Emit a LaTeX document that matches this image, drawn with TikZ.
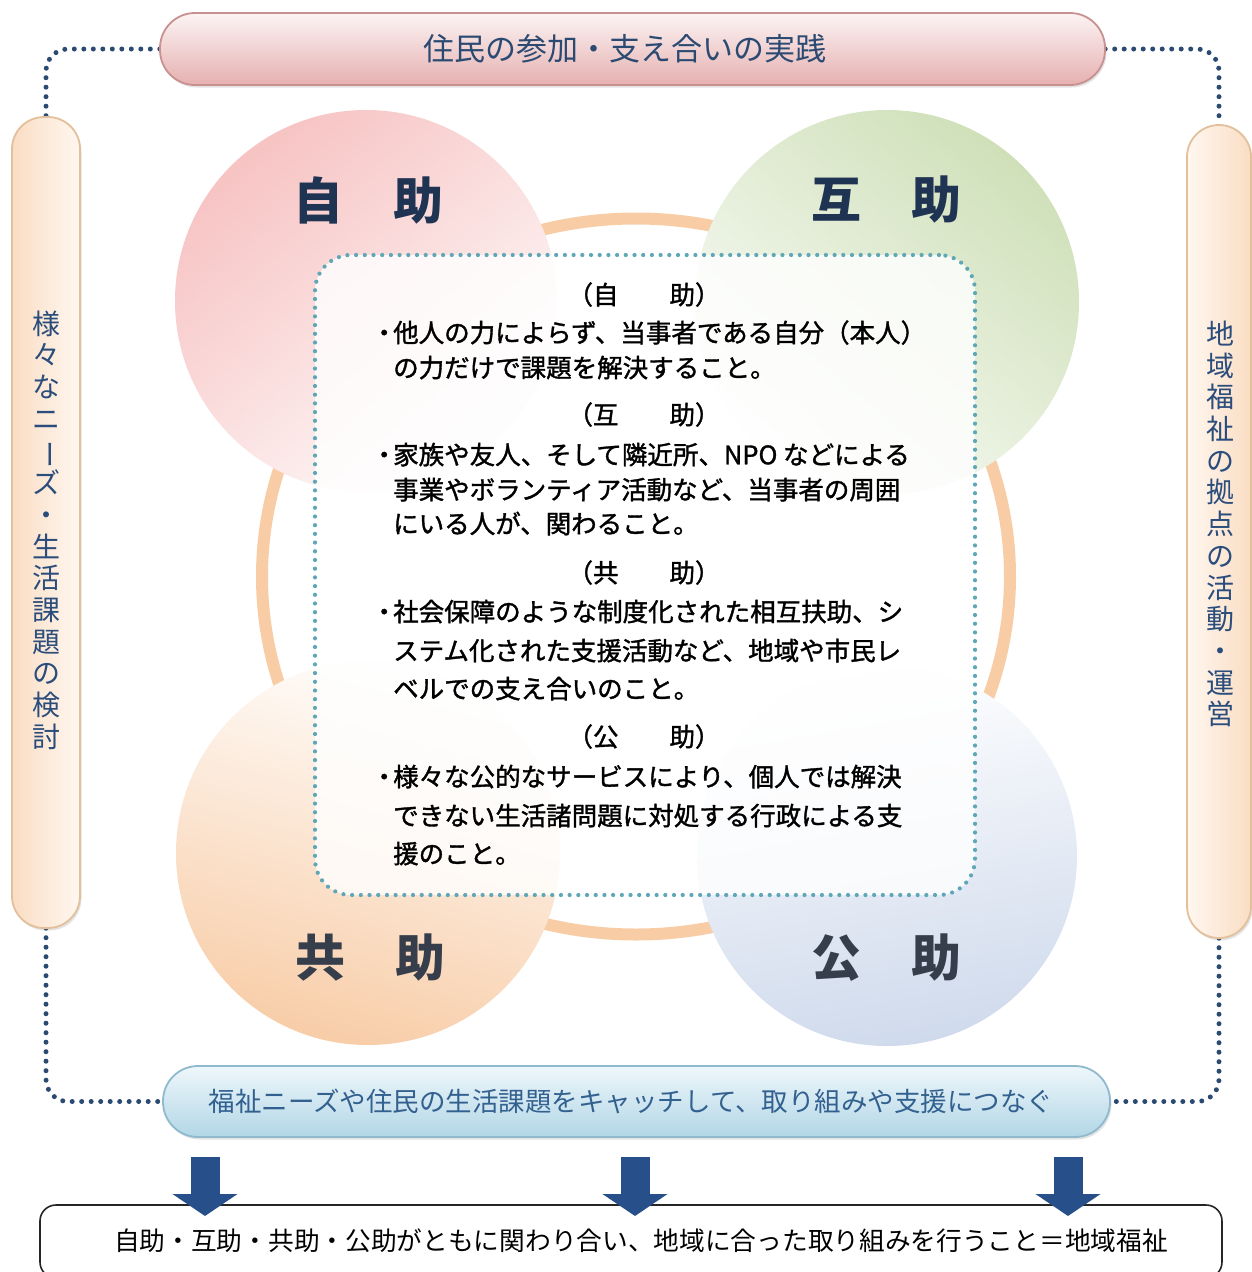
\documentclass[tikz,border=0pt]{standalone}
\usepackage{fontspec}
\usepackage{graphicx}
\newfontfamily\cjk{Noto Sans CJK JP}
\newfontfamily\cjkm{Noto Sans CJK JP}[FakeBold=1.4]
\usetikzlibrary{shadows,arrows.meta}
\definecolor{navy}{HTML}{2B4A72}
\definecolor{pilltxt}{HTML}{2A4D7C}
\definecolor{bluetxt}{HTML}{33618F}
\definecolor{teal}{HTML}{5FA6B6}
\definecolor{ringc}{HTML}{F8CDA6}
\definecolor{pinkC}{HTML}{F7C3C3}
\definecolor{greenC}{HTML}{CFE0B9}
\definecolor{peachC}{HTML}{F8CDA8}
\definecolor{blueC}{HTML}{CFDAEC}
\definecolor{arrowc}{HTML}{27508B}
\definecolor{lbltop}{HTML}{1F3352}
\definecolor{lblbot}{HTML}{363E4C}
\definecolor{pinkTop}{HTML}{FCF4F4}
\definecolor{pinkBot}{HTML}{E6B0B0}
\definecolor{pinkBorder}{HTML}{C99090}
\definecolor{peachL}{HTML}{FADDC3}
\definecolor{peachR}{HTML}{FFF7F0}
\definecolor{peachBorder}{HTML}{E3C09C}
\definecolor{blueTop}{HTML}{EEF7FB}
\definecolor{blueBot}{HTML}{B2D6E6}
\definecolor{blueBorder}{HTML}{8FBACE}
\tikzset{
  navydots/.style={draw=navy, line width=5pt, line cap=round, dash pattern=on 0pt off 9.5pt},
  pillshadow/.style={drop shadow={opacity=0.22, shadow xshift=1.5pt, shadow yshift=-2.5pt}},
  hpill/.style={rectangle, rounded corners=35pt, line width=1.8pt, pillshadow, inner sep=0pt},
  vpill/.style={rectangle, rounded corners=32pt, line width=1.8pt, pillshadow, inner sep=0pt},
  bigtxt/.style={font=\cjk\fontsize{31}{36}\selectfont, text=navy, inner sep=0pt},
  vtxt/.style={font=\cjk\fontsize{28}{31.7}\selectfont, text=pilltxt, align=center, inner sep=0pt},
  lbl/.style={font=\cjk\bfseries\fontsize{50}{56}\selectfont, inner sep=0pt},
  boxtxt/.style={font=\cjkm\fontsize{25.5}{30}\selectfont, text=black, inner sep=0pt, text height=22pt, text depth=3.5pt},
  bline/.style={boxtxt, anchor=west},
  hline/.style={boxtxt, anchor=center},
  bigarrow/.style={draw=arrowc, line width=29pt, -{Triangle[width=64pt,length=22pt]}},
}
\newcommand{\bul}{\makebox[18pt][c]{・}}
\begin{document}
\begin{tikzpicture}[x=1pt,y=-1pt]
\useasboundingbox (0,0) rectangle (1251,1272);
\fill[white] (0,0) rectangle (1251,1272);

% orange ring behind circles
\draw[ringc, line width=12pt] (636,576.5) ellipse [x radius=374pt, y radius=358pt];

% four circles
\shade[top color=pinkC, bottom color=white!92!pinkC, shading angle=40] (366,301) circle[radius=191pt];
\shade[top color=greenC, bottom color=white!90!greenC, shading angle=-40] (887,302) circle[radius=192pt];
\shade[top color=white!97!peachC, bottom color=peachC, shading angle=-15] (368,853) circle[radius=192pt];
\shade[top color=white, bottom color=blueC, shading angle=10] (887,856) circle[radius=190pt];

% inner dotted box
\node[draw=teal, line width=4.2pt, line cap=round, dash pattern=on 0pt off 8.7pt,
      fill=white, fill opacity=0.8, rounded corners=36pt,
      minimum width=660pt, minimum height=640pt, inner sep=0pt] (inner) at (645,575) {};

% circle labels
\node[lbl, text=lbltop] (jijo) at (368,200) {自　助};
\node[lbl, text=lbltop] (gojo) at (886,200) {互　助};
\node[lbl, text=lblbot] (kyojo) at (370,958) {共　助};
\node[lbl, text=lblbot] (kojo) at (886,958) {公　助};

% box text
\node[hline] (h1) at (644,295) {（自　　助）};
\node[bline] (l1) at (375,333) {\bul 他人の力によらず、当事者である自分（本人）};
\node[bline] (l2) at (393,368) {の力だけで課題を解決すること。};
\node[hline] (h2) at (644,415) {（互　　助）};
\node[bline] (l3) at (375,455) {\bul 家族や友人、そして隣近所、NPO などによる};
\node[bline] (l4) at (393,490) {事業やボランティア活動など、当事者の周囲};
\node[bline] (l5) at (393,524) {にいる人が、関わること。};
\node[hline] (h3) at (644,573) {（共　　助）};
\node[bline] (l6) at (375,612) {\bul 社会保障のような制度化された相互扶助、シ};
\node[bline] (l7) at (393,651) {ステム化された支援活動など、地域や市民レ};
\node[bline] (l8) at (393,689) {ベルでの支え合いのこと。};
\node[hline] (h4) at (644,737) {（公　　助）};
\node[bline] (l9) at (375,777) {\bul 様々な公的なサービスにより、個人では解決};
\node[bline] (l10) at (393,816) {できない生活諸問題に対処する行政による支};
\node[bline] (l11) at (393,854) {援のこと。};

% pill centres
\path (632.5,49) coordinate (ptopc) (46,522.5) coordinate (pleftc)
      (1219,531.5) coordinate (prightc) (636.5,1101.5) coordinate (pbotc);

% dotted frame (drawn under the pills)
\node[minimum width=945pt, minimum height=72pt, inner sep=0pt] (ptop0) at (ptopc) {};
\node[minimum width=68pt, minimum height=811pt, inner sep=0pt] (pleft0) at (pleftc) {};
\node[minimum width=64pt, minimum height=813pt, inner sep=0pt] (pright0) at (prightc) {};
\node[minimum width=947pt, minimum height=71pt, inner sep=0pt] (pbot0) at (pbotc) {};
\draw[navydots, rounded corners=22pt] (ptop0.west) -| (pleft0.north);
\draw[navydots, rounded corners=22pt] (ptop0.east) -| (pright0.north);
\draw[navydots, rounded corners=22pt] (pleft0.south) |- (pbot0.west);
\draw[navydots, rounded corners=22pt] (pright0.south) |- (pbot0.east);

% pills
\node[hpill, draw=pinkBorder, top color=pinkTop, bottom color=pinkBot,
      minimum width=945pt, minimum height=72pt] (ptop) at (ptopc) {};
\node[bigtxt] (ttop) at (625,49) {住民の参加・支え合いの実践};

\node[vpill, draw=peachBorder, left color=peachL, right color=peachR,
      minimum width=68pt, minimum height=811pt] (pleft) at (pleftc) {};
\node[vtxt] (tleft) at (46,530) {様\\々\\な\\ニ\\\rotatebox[origin=c]{-90}{ー}\\ズ\\・\\生\\活\\課\\題\\の\\検\\討};

\node[vpill, draw=peachBorder, left color=peachR, right color=peachL,
      minimum width=64pt, minimum height=813pt] (pright) at (prightc) {};
\node[vtxt] (tright) at (1220,524) {地\\域\\福\\祉\\の\\拠\\点\\の\\活\\動\\・\\運\\営};

\node[hpill, draw=blueBorder, top color=blueTop, bottom color=blueBot,
      minimum width=947pt, minimum height=71pt] (pbot) at (pbotc) {};
\node[bigtxt, font=\cjk\fontsize{26.5}{30}\selectfont, text=bluetxt] (tbot) at (631,1101)
  {福祉ニーズや住民の生活課題をキャッチして、取り組みや支援につなぐ};

% final box
\node[draw=black!85, line width=1.6pt, rounded corners=16pt, minimum width=1182pt, minimum height=73pt,
      inner sep=0pt] (final) at (631,1241.5) {};
\node[font=\cjk\fontsize{25.7}{30}\selectfont, inner sep=0pt] (tfinal) at (641,1241)
  {自助・互助・共助・公助がともに関わり合い、地域に合った取り組みを行うこと＝地域福祉};

% arrows
\path (205,1157) coordinate (a1s) (205,1216) coordinate (a1e)
      (635,1157) coordinate (a2s) (635,1216) coordinate (a2e)
      (1068,1157) coordinate (a3s) (1068,1216) coordinate (a3e);
\draw[bigarrow] (a1s) -- (a1e);
\draw[bigarrow] (a2s) -- (a2e);
\draw[bigarrow] (a3s) -- (a3e);
\end{tikzpicture}
\end{document}
